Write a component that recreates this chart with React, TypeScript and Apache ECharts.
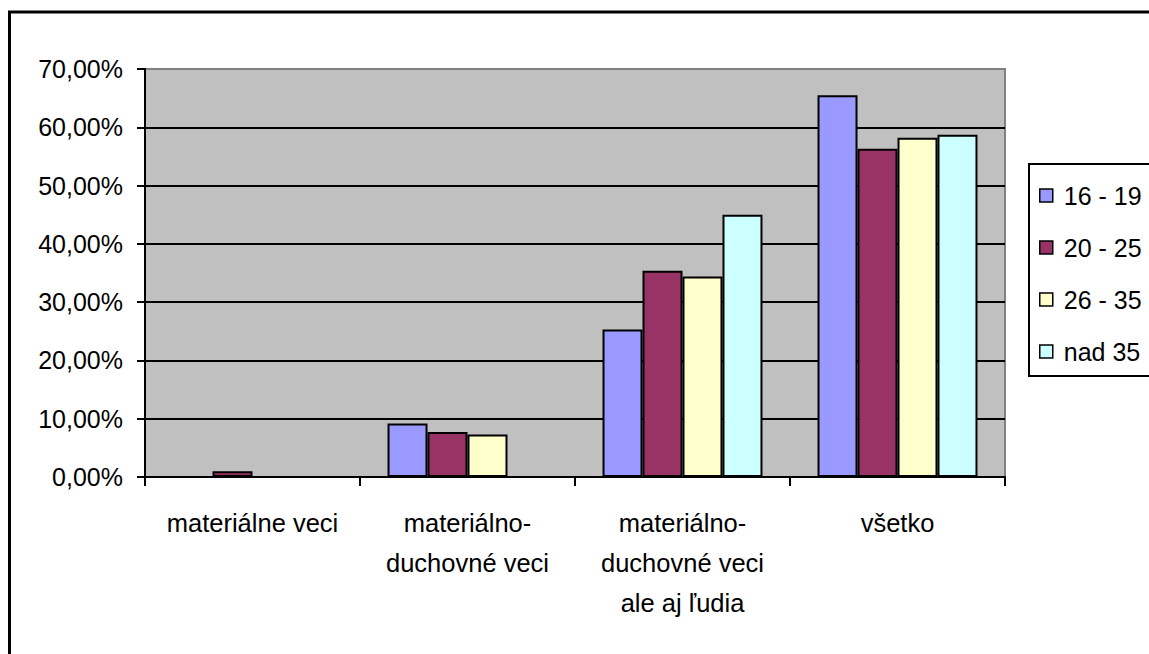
import React, { useEffect, useRef } from "react";
import * as echarts from "echarts";

const categories = [
  "materiálne veci",
  "materiálno-\nduchovné veci",
  "materiálno-\nduchovné veci\nale aj ľudia",
  "všetko",
];
const seriesNames = ["16 - 19", "20 - 25", "26 - 35", "nad 35"];
const values16_19 = [0, 9.2, 25.3, 65.5];
const values20_25 = [1.0, 7.7, 35.4, 56.3];
const values26_35 = [0, 7.3, 34.4, 58.2];
const valuesNad35 = [0, 0, 45.0, 58.7];
const colors = ["#9999FF", "#993366", "#FFFFCC", "#CCFFFF"];
const yTicks = { min: 0, max: 70, interval: 10 };

const FONT = "'Liberation Sans', Arial, sans-serif";

export default function App() {
  const ref = useRef<HTMLDivElement>(null);
  useEffect(() => {
    if (!ref.current) return;
    const chart = echarts.init(ref.current, null, { renderer: "svg" });
    const allValues = [values16_19, values20_25, values26_35, valuesNad35];
    chart.setOption({
      animation: false,
      backgroundColor: "#ffffff",
      textStyle: { fontFamily: FONT },
      grid: {
        left: 145,
        top: 69,
        width: 860,
        height: 408,
        show: true,
        backgroundColor: "#C0C0C0",
        borderColor: "#808080",
        borderWidth: 2,
      },
      legend: {
        orient: "vertical",
        left: 1039,
        top: 183,
        padding: 0,
        itemGap: 27,
        itemWidth: 13,
        itemHeight: 13,
        icon: "rect",
        data: seriesNames,
        textStyle: {
          fontFamily: FONT,
          fontSize: 25,
          color: "#000",
          padding: [0, 0, 0, 6],
        },
        itemStyle: { borderColor: "#000", borderWidth: 1.5 },
      },
      xAxis: {
        type: "category",
        data: categories,
        axisLine: { show: true, lineStyle: { color: "#000", width: 2 } },
        axisTick: { show: true, length: 9, lineStyle: { color: "#000", width: 2 } },
        axisLabel: {
          fontFamily: FONT,
          fontSize: 25.5,
          lineHeight: 40,
          color: "#000",
          margin: 26,
          interval: 0,
          verticalAlign: "top",
        },
        splitLine: { show: false },
      },
      yAxis: {
        type: "value",
        min: yTicks.min,
        max: yTicks.max,
        interval: yTicks.interval,
        axisLine: { show: true, lineStyle: { color: "#000", width: 2 } },
        axisTick: { show: true, length: 8, lineStyle: { color: "#000", width: 2 } },
        axisLabel: {
          fontFamily: FONT,
          fontSize: 25,
          color: "#000",
          margin: 22,
          formatter: (v: number) => v.toFixed(2).replace(".", ",") + "%",
        },
        splitLine: {
          show: true,
          lineStyle: {
            color: ["#000", "#000", "#000", "#000", "#000", "#000", "#000", "#808080"],
            width: 2,
          },
        },
      },
      series: seriesNames.map((name, i) => ({
        name,
        type: "bar",
        data: allValues[i],
        barGap: "0%",
        barCategoryGap: "25.6%",
        itemStyle: { color: colors[i], borderColor: "#000", borderWidth: 2 },
      })),
      graphic: [
        {
          type: "rect",
          shape: { x: 1029, y: 164, width: 300, height: 212 },
          style: { fill: "none", stroke: "#000", lineWidth: 2 },
          z: 10,
          silent: true,
        },
        {
          type: "rect",
          shape: { x: 9.5, y: 12, width: 1300, height: 800 },
          style: { fill: "none", stroke: "#000", lineWidth: 3 },
          z: 10,
          silent: true,
        },
      ],
    });
    return () => chart.dispose();
  }, []);
  return (
    <div
      ref={ref}
      style={{ position: "absolute", left: 0, top: 0, width: 1149, height: 654 }}
    />
  );
}
